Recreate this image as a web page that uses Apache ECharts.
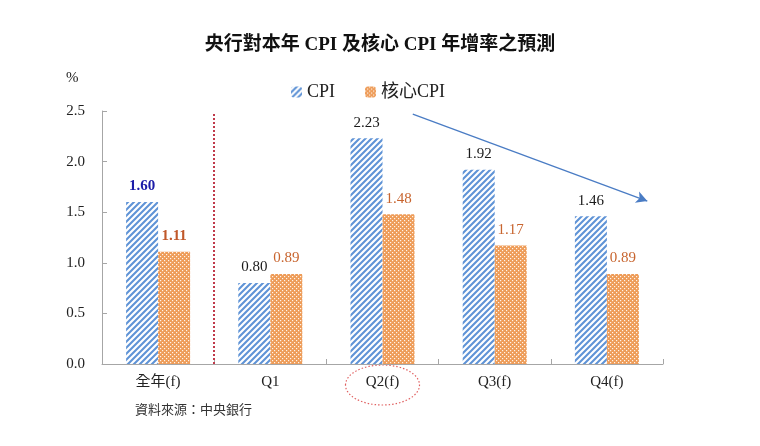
<!DOCTYPE html>
<html><head><meta charset="utf-8">
<script src="https://cdn.jsdelivr.net/npm/echarts@6/dist/echarts.min.js"></script>
<style>html,body{margin:0;padding:0;background:#fff}#c{width:760px;height:446px}</style>
</head><body><div id="c"></div>
<script>
const categories = ['全年(f)', 'Q1', 'Q2(f)', 'Q3(f)', 'Q4(f)'];
const cpi = [1.60, 0.80, 2.23, 1.92, 1.46];
const coreCpi = [1.11, 0.89, 1.48, 1.17, 0.89];
const yTicks = [0, 0.5, 1.0, 1.5, 2.0, 2.5];
const seriesNames = ['CPI', '核心CPI'];

const SERIF = '"Liberation Serif","Noto Sans CJK TC",serif';
const CJK = '"Noto Sans CJK TC",sans-serif';

function stripePattern() {
  const s = 6, c = document.createElement('canvas');
  c.width = s; c.height = s;
  const g = c.getContext('2d');
  g.fillStyle = '#ffffff'; g.fillRect(0, 0, s, s);
  g.strokeStyle = '#5f93d6'; g.lineWidth = 2.1;
  g.beginPath();
  g.moveTo(-2, 2); g.lineTo(2, -2);
  g.moveTo(0, s); g.lineTo(s, 0);
  g.moveTo(s - 2, s + 2); g.lineTo(s + 2, s - 2);
  g.stroke();
  return c;
}
function dotPattern() {
  const s = 4, c = document.createElement('canvas');
  c.width = s; c.height = s;
  const g = c.getContext('2d');
  g.fillStyle = '#ee9c58'; g.fillRect(0, 0, s, s);
  g.fillStyle = '#fff4ea';
  g.fillRect(0, 0, 1.2, 1.2);
  g.fillRect(2, 2, 1.2, 1.2);
  return c;
}
const cpiFill = { image: stripePattern(), repeat: 'repeat' };
const coreFill = { image: dotPattern(), repeat: 'repeat' };

const chart = echarts.init(document.getElementById('c'), null, { renderer: 'canvas' });

const cpiData = cpi.map((v, i) => ({
  value: v,
  label: i === 0 ? { color: '#1c1ca8', fontWeight: 'bold' } : { color: '#1a1a1a' }
}));
const coreData = coreCpi.map((v, i) => ({
  value: v,
  label: i === 0 ? { color: '#c0582a', fontWeight: 'bold' } : { color: '#c8652f' }
}));

const baseGraphics = [{
  id: 'pct', type: 'text', left: 66, top: 71,
  style: { text: '%', fontFamily: SERIF, fontSize: 15, fill: '#222' }
}, {
  id: 'src', type: 'text', left: 135, top: 403,
  style: { text: '資料來源：中央銀行', fontFamily: CJK, fontSize: 13, fill: '#333' }
}];

const option = {
  backgroundColor: '#ffffff',
  animation: false,
  title: {
    text: '央行對本年 CPI 及核心 CPI 年增率之預測',
    left: 'center', top: 31,
    textStyle: { fontFamily: SERIF, fontSize: 19, fontWeight: 'bold', color: '#111' }
  },
  legend: {
    data: seriesNames,
    top: 78, left: 286,
    itemWidth: 11, itemHeight: 11, itemGap: 30,
    textStyle: { fontFamily: SERIF, fontSize: 18, color: '#222' }
  },
  grid: { left: 102, right: 97, top: 111, bottom: 82, containLabel: false },
  xAxis: [{
    type: 'category',
    data: categories,
    axisLine: { lineStyle: { color: '#a6a6a6', width: 1 } },
    axisTick: { show: true, inside: true, length: 5, lineStyle: { color: '#a6a6a6' } },
    axisLabel: { fontFamily: SERIF, fontSize: 15, color: '#222', margin: 11 },
    splitLine: { show: false }
  }, {
    type: 'value', min: 0, max: 5, show: false
  }],
  yAxis: {
    type: 'value', min: yTicks[0], max: yTicks[yTicks.length - 1], interval: 0.5,
    axisLine: { show: true, lineStyle: { color: '#a6a6a6' } },
    axisTick: { show: true, inside: true, length: 5, lineStyle: { color: '#a6a6a6' } },
    splitLine: { show: false },
    axisLabel: {
      fontFamily: SERIF, fontSize: 15, color: '#222', margin: 17,
      formatter: v => v.toFixed(1)
    }
  },
  series: [{
    name: seriesNames[0], type: 'bar', data: cpiData,
    barWidth: 32, barGap: '0%',
    itemStyle: { color: cpiFill },
    label: { show: true, position: 'top', distance: 8, fontFamily: SERIF, fontSize: 15,
      formatter: p => p.value.toFixed(2) }
  }, {
    name: seriesNames[1], type: 'bar', data: coreData,
    barWidth: 32, barGap: '0%',
    itemStyle: { color: coreFill },
    label: { show: true, position: 'top', distance: 8, fontFamily: SERIF, fontSize: 15,
      formatter: p => p.value.toFixed(2) }
  }, {
    type: 'scatter', xAxisIndex: 1, yAxisIndex: 0, data: [], silent: true,
    markLine: {
      silent: true, symbol: ['none', 'arrow'], symbolSize: [9, 11],
      label: { show: false },
      lineStyle: { color: '#4a7cc4', width: 1.3, type: 'solid' },
      data: [[{ coord: [2.77, 2.47] }, { coord: [4.86, 1.61] }]]
    }
  }, {
    type: 'scatter', xAxisIndex: 1, yAxisIndex: 0, data: [], silent: true,
    markLine: {
      silent: true, symbol: ['none', 'none'],
      label: { show: false },
      lineStyle: { color: '#c0394a', width: 2, type: [2, 2] },
      data: [[{ coord: [1, 0] }, { coord: [1, 2.48] }]]
    }
  }],
  graphic: baseGraphics
};
chart.setOption(option);

const cx = chart.convertToPixel({ xAxisIndex: 0 }, categories[2]);
const y0 = chart.convertToPixel({ yAxisIndex: 0 }, 0);
chart.setOption({
  graphic: baseGraphics.concat([{
    id: 'ell', type: 'ellipse', shape: { cx: cx, cy: y0 + 21, rx: 37, ry: 20 },
    style: { fill: null, stroke: '#e06060', lineWidth: 1.2, lineDash: [1.5, 2] }
  }])
});
</script></body></html>
